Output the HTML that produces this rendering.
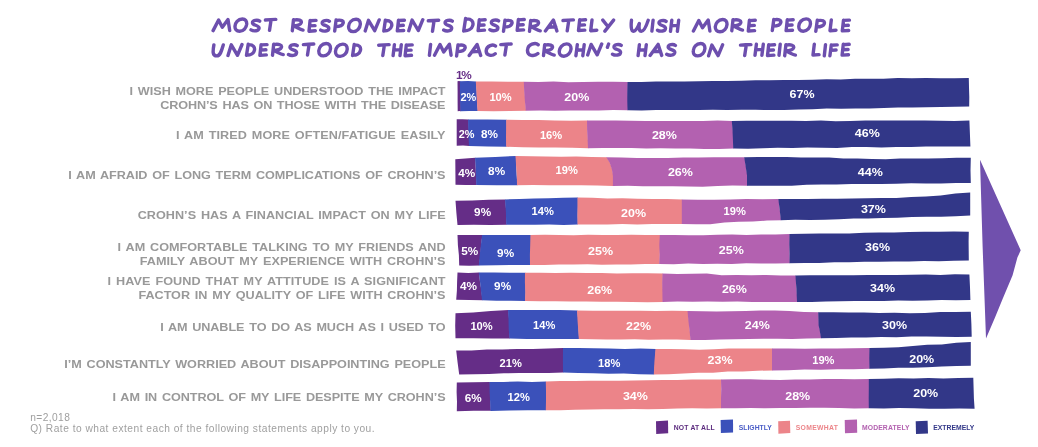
<!DOCTYPE html>
<html><head><meta charset="utf-8"><title>Crohn's impact chart</title>
<style>
html,body{margin:0;padding:0;background:#fff;}
body{width:1038px;height:447px;overflow:hidden;position:relative;font-family:"Liberation Sans",sans-serif;}
svg{position:absolute;left:0;top:0;display:block;will-change:transform;opacity:0.999}
h1{position:absolute;left:210px;top:12px;width:642px;margin:0;font:bold 19px/24px "Liberation Sans",sans-serif;color:transparent;text-align:center;letter-spacing:1px;white-space:nowrap;overflow:hidden}
text{font-family:"Liberation Sans",sans-serif}
.n{font-weight:bold;font-size:11px;fill:#fff}
.l{font-weight:bold;font-size:11.6px;fill:#999999;word-spacing:1.2px}
.f{font-size:10.2px;fill:#9f9f9f}
.g{font-weight:bold;font-size:6.8px}
</style></head><body>
<h1>MOST RESPONDENTS DESPERATELY WISH MORE PEOPLE<br>UNDERSTOOD THE IMPACT CROHN&rsquo;S HAS ON THEIR LIFE</h1>
<svg width="1038" height="447" viewBox="0 0 1038 447">
<path d="M 213.1 30.6 L 218.6 20.0 L 222.3 27.3 L 228.0 19.6 L 229.7 30.6 M 242.4 19.0 C 237.8 19.0 235.2 22.8 235.0 26.1 C 234.8 29.4 236.5 31.3 239.6 31.3 C 243.6 31.3 246.4 27.7 246.7 24.2 C 246.9 20.9 245.3 19.0 242.4 19.0 M 259.7 21.1 C 257.5 19.4 252.2 20.2 252.5 23.0 C 252.7 25.5 259.3 25.1 259.1 28.1 C 258.8 31.2 253.8 31.6 251.0 29.9 M 265.4 20.0 L 270.6 19.6 L 275.8 19.4 M 271.1 19.7 L 269.5 30.4 M 293.5 19.7 L 292.3 30.7 M 293.5 20.1 C 299.0 19.1 302.0 20.5 301.2 22.7 C 300.5 24.9 296.4 25.7 293.3 25.8 C 297.0 27.4 300.5 29.6 303.0 30.1 M 310.1 20.4 L 309.0 31.2 M 310.1 20.7 L 316.0 20.4 M 309.6 25.9 L 315.0 25.6 M 309.0 31.2 L 315.3 30.7 M 329.4 21.3 C 327.2 19.6 322.0 20.5 322.2 23.2 C 322.5 25.7 329.0 25.3 328.8 28.3 C 328.6 31.5 323.5 31.8 320.7 30.1 M 336.1 20.0 L 334.7 31.0 M 336.1 20.5 C 341.5 19.4 343.9 20.9 343.1 23.3 C 342.4 25.8 338.9 26.6 335.5 26.6 M 356.1 19.3 C 351.4 19.3 348.9 23.1 348.6 26.4 C 348.4 29.7 350.2 31.6 353.2 31.6 C 357.2 31.6 360.1 28.0 360.3 24.4 C 360.5 21.1 358.9 19.3 356.1 19.3 M 365.2 30.9 L 368.5 20.3 L 374.7 30.7 L 379.2 19.9 M 385.4 20.1 L 383.8 31.1 M 385.3 20.5 C 390.7 20.1 392.4 23.2 391.6 26.1 C 390.8 29.4 387.2 31.1 383.8 30.7 M 398.5 20.2 L 397.3 30.9 M 398.5 20.5 L 404.4 20.2 M 398.0 25.7 L 403.3 25.3 M 397.3 30.9 L 403.7 30.5 M 408.8 30.7 L 412.1 20.0 L 418.3 30.5 L 422.8 19.7 M 428.3 20.8 L 433.5 20.5 L 438.7 20.3 M 434.1 20.6 L 432.5 31.3 M 452.3 21.2 C 450.1 19.5 444.9 20.3 445.1 23.1 C 445.4 25.6 451.9 25.2 451.7 28.1 C 451.5 31.3 446.4 31.7 443.7 30.0 M 465.6 18.4 L 463.7 31.1 M 465.6 18.9 C 471.8 18.4 473.7 21.9 472.8 25.4 C 471.9 29.2 467.8 31.1 463.8 30.7 M 479.3 19.8 L 478.1 30.6 M 479.3 20.1 L 485.2 19.8 M 478.8 25.3 L 484.1 25.0 M 478.1 30.6 L 484.5 30.1 M 498.6 20.9 C 496.4 19.2 491.1 20.1 491.4 22.8 C 491.6 25.3 498.1 24.9 497.9 27.9 C 497.7 31.1 492.7 31.4 489.9 29.7 M 505.0 20.3 L 503.5 31.3 M 504.9 20.7 C 510.3 19.6 512.7 21.2 511.9 23.6 C 511.2 26.0 507.7 26.9 504.4 26.9 M 518.4 19.5 L 517.2 30.3 M 518.4 19.9 L 524.3 19.5 M 517.9 25.0 L 523.2 24.7 M 517.2 30.3 L 523.6 29.9 M 530.7 20.4 L 529.5 31.4 M 530.7 20.8 C 536.2 19.8 539.1 21.2 538.4 23.4 C 537.7 25.6 533.6 26.4 530.4 26.5 C 534.2 28.1 537.7 30.3 540.2 30.8 M 545.4 31.0 L 553.4 20.0 L 556.9 31.0 M 548.5 27.3 L 555.8 26.8 M 563.0 20.5 L 568.2 20.1 L 573.4 19.9 M 568.8 20.2 L 567.2 30.9 M 579.7 19.8 L 578.5 30.5 M 579.6 20.1 L 585.6 19.8 M 579.1 25.3 L 584.5 24.9 M 578.5 30.5 L 584.8 30.1 M 592.0 20.0 L 590.7 30.7 L 596.8 30.2 M 602.8 20.1 L 607.3 25.8 M 613.6 20.1 L 604.9 31.1 M 631.5 20.3 C 630.8 25.8 631.2 31.3 633.3 31.3 C 635.5 31.3 637.9 26.9 639.3 23.6 C 638.7 28.0 639.1 31.3 641.4 31.3 C 643.7 31.3 646.4 25.8 648.2 20.3 M 653.1 20.1 L 651.9 31.1 M 666.1 21.4 C 664.0 19.6 658.7 20.5 659.0 23.2 C 659.2 25.8 665.7 25.3 665.5 28.3 C 665.3 31.5 660.2 31.8 657.5 30.2 M 671.8 20.3 L 670.5 31.3 M 678.7 20.3 L 677.4 31.3 M 671.1 25.8 L 678.1 25.4 M 693.4 31.1 L 698.8 20.4 L 702.5 27.8 L 708.2 20.1 L 709.9 31.1 M 722.7 19.5 C 718.1 19.5 715.6 23.3 715.3 26.6 C 715.1 29.9 716.9 31.8 719.9 31.8 C 723.9 31.8 726.7 28.2 727.0 24.6 C 727.2 21.3 725.6 19.5 722.7 19.5 M 733.0 19.7 L 731.8 30.7 M 732.9 20.1 C 738.5 19.1 741.4 20.6 740.7 22.8 C 739.9 25.0 735.9 25.7 732.7 25.8 C 736.5 27.4 739.9 29.6 742.5 30.1 M 749.4 20.3 L 748.3 31.0 M 749.4 20.6 L 755.3 20.3 M 748.9 25.8 L 754.3 25.4 M 748.3 31.0 L 754.6 30.6 M 773.8 19.5 L 772.3 30.5 M 773.7 19.9 C 779.1 18.8 781.5 20.4 780.7 22.8 C 780.0 25.2 776.5 26.1 773.2 26.1 M 787.3 19.8 L 786.1 30.6 M 787.2 20.1 L 793.2 19.8 M 786.7 25.3 L 792.1 25.0 M 786.1 30.6 L 792.5 30.2 M 806.2 18.9 C 801.6 18.9 799.0 22.8 798.8 26.1 C 798.6 29.4 800.3 31.2 803.3 31.2 C 807.4 31.2 810.2 27.6 810.4 24.1 C 810.7 20.8 809.1 18.9 806.2 18.9 M 817.3 20.3 L 815.8 31.3 M 817.3 20.7 C 822.7 19.6 825.0 21.2 824.3 23.6 C 823.5 26.0 820.0 26.9 816.7 26.9 M 831.3 20.0 L 830.0 30.7 L 836.0 30.2 M 843.5 20.1 L 842.3 30.9 M 843.5 20.4 L 849.4 20.1 M 843.0 25.6 L 848.3 25.3 M 842.3 30.9 L 848.7 30.5 M 213.9 44.9 C 212.7 51.5 212.4 55.9 216.8 55.9 C 220.4 55.9 221.7 50.4 223.3 44.9 M 228.0 55.5 L 231.3 44.8 L 237.5 55.3 L 242.0 44.5 M 248.2 44.3 L 246.5 55.3 M 248.1 44.7 C 253.5 44.3 255.1 47.4 254.4 50.4 C 253.6 53.7 250.0 55.3 246.6 55.0 M 261.1 44.6 L 259.9 55.4 M 261.1 44.9 L 267.0 44.6 M 260.6 50.1 L 265.9 49.8 M 259.9 55.4 L 266.3 54.9 M 273.7 44.2 L 272.5 55.2 M 273.6 44.6 C 279.2 43.6 282.1 45.1 281.4 47.3 C 280.6 49.5 276.6 50.2 273.4 50.4 C 277.2 51.9 280.6 54.1 283.2 54.6 M 297.2 45.7 C 295.0 44.0 289.8 44.8 290.0 47.6 C 290.3 50.1 296.8 49.7 296.6 52.6 C 296.4 55.8 291.3 56.2 288.5 54.5 M 303.4 44.6 L 308.6 44.3 L 313.8 44.0 M 309.1 44.4 L 307.5 55.0 M 326.2 43.5 C 321.6 43.5 319.1 47.4 318.8 50.7 C 318.6 54.0 320.4 55.9 323.4 55.9 C 327.4 55.9 330.3 52.2 330.5 48.7 C 330.7 45.4 329.1 43.5 326.2 43.5 M 342.9 44.1 C 338.3 44.1 335.8 48.0 335.5 51.3 C 335.3 54.6 337.1 56.4 340.1 56.4 C 344.1 56.4 347.0 52.8 347.2 49.3 C 347.4 46.0 345.8 44.1 342.9 44.1 M 354.2 44.5 L 352.6 55.5 M 354.2 44.9 C 359.5 44.5 361.2 47.5 360.4 50.5 C 359.6 53.8 356.0 55.5 352.6 55.1 M 378.7 45.2 L 383.9 44.9 L 389.1 44.6 M 384.4 45.0 L 382.8 55.6 M 394.4 44.6 L 393.1 55.6 M 401.3 44.6 L 400.0 55.6 M 393.7 50.1 L 400.7 49.6 M 406.3 44.9 L 405.1 55.7 M 406.3 45.3 L 412.2 44.9 M 405.8 50.4 L 411.1 50.1 M 405.1 55.7 L 411.5 55.3 M 430.6 44.4 L 429.4 55.4 M 434.5 55.2 L 440.0 44.6 L 443.7 51.9 L 449.4 44.2 L 451.1 55.2 M 458.0 45.0 L 456.6 56.0 M 458.0 45.4 C 463.4 44.3 465.8 45.9 465.0 48.3 C 464.3 50.7 460.8 51.6 457.4 51.6 M 469.2 55.5 L 477.1 44.5 L 480.7 55.5 M 472.3 51.8 L 479.5 51.4 M 495.5 46.0 C 493.2 43.8 486.6 45.5 486.2 50.6 C 485.8 56.0 492.3 56.3 495.2 53.7 M 500.8 44.6 L 506.0 44.2 L 511.2 44.0 M 506.5 44.4 L 504.9 55.0 M 538.2 44.7 C 535.5 42.1 527.9 44.1 527.5 50.0 C 527.0 56.3 534.5 56.7 537.9 53.6 M 544.7 44.6 L 543.5 55.6 M 544.6 45.1 C 550.2 44.1 553.1 45.5 552.4 47.7 C 551.6 49.9 547.6 50.7 544.4 50.8 C 548.2 52.3 551.6 54.5 554.2 55.1 M 566.7 43.9 C 562.1 43.9 559.6 47.8 559.3 51.1 C 559.1 54.4 560.8 56.2 563.9 56.2 C 567.9 56.2 570.7 52.6 571.0 49.1 C 571.2 45.8 569.6 43.9 566.7 43.9 M 577.3 44.7 L 575.9 55.7 M 584.2 44.7 L 582.8 55.7 M 576.6 50.2 L 583.5 49.8 M 587.7 55.0 L 591.1 44.4 L 597.2 54.8 L 601.7 44.0 M 608.6 44.0 L 607.4 47.3 M 621.2 45.4 C 619.0 43.6 613.8 44.5 614.0 47.2 C 614.3 49.8 620.8 49.3 620.6 52.3 C 620.4 55.5 615.3 55.8 612.5 54.2 M 639.4 44.6 L 638.1 55.6 M 646.3 44.6 L 645.0 55.6 M 638.8 50.1 L 645.7 49.7 M 650.1 55.4 L 658.1 44.4 L 661.7 55.4 M 653.3 51.6 L 660.5 51.2 M 675.4 45.5 C 673.2 43.7 668.0 44.6 668.2 47.3 C 668.5 49.9 675.0 49.4 674.8 52.4 C 674.5 55.6 669.5 55.9 666.7 54.3 M 700.7 43.5 C 696.1 43.5 693.5 47.4 693.3 50.7 C 693.0 54.0 694.8 55.9 697.8 55.9 C 701.8 55.9 704.7 52.2 704.9 48.7 C 705.1 45.4 703.5 43.5 700.7 43.5 M 708.6 55.8 L 711.9 45.1 L 718.1 55.6 L 722.6 44.8 M 740.5 45.1 L 745.7 44.8 L 750.9 44.6 M 746.3 44.9 L 744.7 55.6 M 756.4 44.3 L 755.0 55.3 M 763.3 44.3 L 761.9 55.3 M 755.7 49.8 L 762.6 49.4 M 768.7 44.8 L 767.5 55.6 M 768.7 45.1 L 774.6 44.8 M 768.2 50.3 L 773.5 50.0 M 767.5 55.6 L 773.9 55.1 M 780.2 44.2 L 779.0 55.2 M 785.9 44.7 L 784.7 55.7 M 785.8 45.1 C 791.4 44.1 794.3 45.6 793.6 47.8 C 792.9 50.0 788.8 50.7 785.6 50.9 C 789.4 52.4 792.8 54.6 795.4 55.1 M 814.3 44.3 L 813.0 55.0 L 819.0 54.6 M 825.5 44.8 L 824.3 55.8 M 831.3 44.9 L 829.9 55.9 M 831.2 45.2 L 837.2 44.9 M 830.6 50.4 L 836.1 50.0 M 843.3 44.3 L 842.1 55.1 M 843.2 44.7 L 849.2 44.3 M 842.7 49.8 L 848.1 49.5 M 842.1 55.1 L 848.5 54.7" fill="none" stroke="#6d4fae" stroke-width="3.40" stroke-linecap="round" stroke-linejoin="round"/>
<polygon fill="#652d87" points="457.5,81.2 458.9,81.1 460.4,81.3 460.4,91.3 460.8,101.2 460.9,111.2 459.3,110.9 457.7,111.2 457.6,101.2 457.6,91.2"/>
<polygon fill="#3b51ba" points="460.0,81.3 468.1,81.0 476.1,81.4 476.7,91.3 477.0,101.2 477.9,111.1 469.2,111.1 460.5,111.2 460.1,101.2 459.9,91.3"/>
<polygon fill="#ec8489" points="475.8,81.4 491.9,81.4 508.0,81.8 524.1,81.7 524.6,91.4 525.3,101.1 526.1,110.8 509.9,111.0 493.7,111.3 477.5,111.1 476.9,101.2 476.4,91.3"/>
<polygon fill="#b361b0" points="523.8,81.7 538.6,82.1 553.5,81.5 568.4,82.2 583.3,81.9 598.1,81.8 613.0,81.7 627.9,82.0 627.8,91.4 628.1,100.9 627.9,110.3 613.3,110.1 598.7,110.5 584.1,110.6 569.5,110.5 554.9,110.7 540.3,110.4 525.8,110.8 524.9,101.1 524.2,91.4"/>
<polygon fill="#323788" points="627.5,82.0 641.7,82.0 655.9,81.6 670.2,81.4 684.4,81.4 698.6,81.2 712.8,80.9 727.0,81.0 741.3,80.7 755.5,80.2 769.7,80.2 783.9,80.0 798.1,80.0 812.4,79.7 826.6,79.2 840.8,79.5 855.0,78.7 869.3,78.7 883.5,78.7 897.7,78.1 911.9,78.3 926.1,77.9 940.4,78.3 954.6,78.3 968.8,78.1 969.0,87.6 969.3,97.1 969.2,106.6 955.0,106.7 940.7,107.1 926.5,107.3 912.2,107.5 898.0,107.6 883.8,108.1 869.5,108.5 855.3,108.4 841.1,108.8 826.8,108.6 812.6,109.3 798.4,109.6 784.1,110.1 769.9,110.1 755.6,109.7 741.4,109.8 727.2,110.1 712.9,109.7 698.7,110.0 684.5,109.9 670.2,109.9 656.0,109.9 641.7,110.5 627.5,110.3 627.3,100.9 627.3,91.4"/>
<polygon fill="#652d87" points="456.7,119.3 462.5,119.3 468.4,119.4 469.1,132.7 469.4,146.0 463.0,145.5 456.7,145.7 456.7,132.5"/>
<polygon fill="#3b51ba" points="468.0,119.4 487.3,119.6 506.6,119.8 506.9,128.8 506.8,137.8 506.6,146.8 487.8,146.6 469.0,146.0 468.4,132.7"/>
<polygon fill="#ec8489" points="506.2,119.8 522.5,119.9 538.7,120.0 554.9,120.6 571.2,120.8 587.4,120.6 587.5,129.8 587.9,139.0 588.4,148.2 572.0,147.8 555.5,147.5 539.1,147.4 522.7,147.2 506.2,146.8 506.0,137.8 506.1,128.8"/>
<polygon fill="#b361b0" points="587.0,120.6 601.5,120.6 616.0,120.6 630.5,120.8 645.1,121.1 659.6,121.0 674.1,120.9 688.6,121.0 703.1,121.0 717.6,120.6 732.1,121.0 732.9,130.2 733.3,139.3 733.6,148.5 719.1,148.9 704.5,148.9 690.0,148.6 675.4,148.5 660.8,148.3 646.3,148.6 631.7,148.1 617.1,148.0 602.6,148.1 588.0,148.2 587.6,139.0 587.1,129.8"/>
<polygon fill="#323788" points="731.8,121.0 746.6,120.7 761.5,120.7 776.3,120.8 791.2,120.8 806.0,120.9 820.9,120.6 835.7,121.2 850.6,121.0 865.4,120.6 880.3,120.6 895.1,120.6 910.0,120.6 924.8,120.4 939.7,120.8 954.5,120.9 969.4,120.5 969.9,133.5 970.4,146.5 955.6,146.6 940.8,146.4 925.9,146.6 911.1,146.9 896.3,146.9 881.5,147.4 866.6,147.1 851.8,147.1 837.0,147.9 822.2,147.7 807.4,147.5 792.5,147.9 777.7,147.7 762.9,148.2 748.1,148.7 733.2,148.5 732.9,139.3 732.5,130.2"/>
<polygon fill="#652d87" points="455.3,159.3 465.4,158.4 475.4,157.8 475.7,166.8 476.0,175.9 476.6,184.9 466.1,185.1 455.5,184.8 455.4,172.1"/>
<polygon fill="#3b51ba" points="475.0,157.8 495.4,157.0 515.9,155.9 516.3,165.7 516.7,175.4 517.4,185.2 496.8,185.3 476.2,184.9 476.0,175.9 475.7,166.8"/>
<polygon fill="#ec8489" points="515.5,155.9 530.7,156.3 545.9,156.5 561.1,156.7 576.3,156.6 591.5,157.0 606.7,157.2 610.2,162.9 612.3,169.5 613.3,176.1 613.3,185.9 597.2,185.6 581.2,185.3 565.1,185.2 549.1,185.3 533.0,185.1 517.0,185.2 516.8,175.4 516.1,165.7"/>
<polygon fill="#b361b0" points="606.3,157.2 621.7,157.4 637.0,157.9 652.4,158.1 667.8,158.0 683.2,157.6 698.5,157.4 713.9,157.3 729.3,157.2 744.6,157.2 746.1,167.4 747.4,175.4 747.4,185.7 732.5,185.6 717.5,186.1 702.6,186.7 687.6,186.6 672.7,186.2 657.7,186.3 642.8,186.3 627.8,185.7 612.9,185.9 612.9,176.1 611.9,169.5 609.8,162.9"/>
<polygon fill="#323788" points="744.2,157.2 758.4,157.1 772.6,157.1 786.7,157.1 800.9,157.4 815.0,157.5 829.2,157.6 843.3,158.4 857.5,158.4 871.7,159.0 885.8,159.2 900.0,158.6 914.1,158.4 928.3,158.6 942.4,158.3 956.6,157.7 970.8,157.7 970.5,170.4 970.8,183.1 955.8,183.0 940.9,183.6 926.0,183.6 911.1,183.2 896.2,183.8 881.2,184.0 866.3,184.1 851.4,184.1 836.5,184.6 821.6,184.6 806.7,184.8 791.8,185.7 776.8,185.7 761.9,185.7 747.0,185.7 747.0,175.4 745.8,167.4"/>
<polygon fill="#652d87" points="455.5,200.8 472.1,200.6 488.8,199.8 505.4,199.4 506.2,212.1 506.6,224.8 490.3,225.1 473.9,224.7 457.5,225.0 456.4,212.9"/>
<polygon fill="#3b51ba" points="505.0,199.4 519.6,198.9 534.2,198.5 548.7,198.3 563.3,197.7 577.9,197.5 577.9,206.5 577.7,215.5 577.9,224.5 563.6,224.9 549.2,224.5 534.9,224.7 520.6,224.8 506.2,224.8 505.9,212.1"/>
<polygon fill="#ec8489" points="577.5,197.5 592.5,197.7 607.4,198.4 622.4,198.3 637.3,198.7 652.3,198.9 667.2,198.9 682.2,199.5 682.2,211.8 682.2,224.1 667.2,223.9 652.3,223.9 637.3,224.5 622.4,224.1 607.4,224.4 592.5,224.6 577.5,224.5 577.4,215.5 577.5,206.5"/>
<polygon fill="#b361b0" points="681.8,199.5 697.9,199.8 714.1,199.7 730.2,199.4 746.4,198.9 762.5,199.2 778.7,199.1 779.8,209.7 781.2,220.3 767.0,220.6 752.8,221.5 738.6,221.8 724.4,222.4 710.2,224.2 696.0,224.3 681.8,224.1 681.8,211.8"/>
<polygon fill="#323788" points="778.3,199.1 793.1,199.1 807.8,198.9 822.6,198.7 837.3,198.7 852.1,198.4 866.9,198.3 881.6,198.1 896.4,197.9 911.2,197.1 925.9,196.6 940.7,195.5 955.4,193.6 970.2,192.4 970.2,203.9 970.2,215.5 955.6,216.3 941.1,216.7 926.5,216.7 911.9,217.1 897.4,217.8 882.8,218.0 868.2,218.4 853.6,218.6 839.1,219.3 824.5,219.7 809.9,220.0 795.4,219.8 780.8,220.3 779.7,209.7"/>
<polygon fill="#652d87" points="457.5,235.0 469.9,235.1 482.4,235.0 481.1,245.1 480.5,255.2 479.1,265.4 469.2,265.8 459.2,265.5 458.9,255.3 457.9,245.2"/>
<polygon fill="#3b51ba" points="482.0,235.0 498.3,234.9 514.6,235.0 530.9,235.0 531.0,245.0 530.8,255.0 530.4,265.0 513.2,264.9 496.0,265.2 478.8,265.4 479.7,255.2 480.9,245.1"/>
<polygon fill="#ec8489" points="530.5,235.0 544.9,234.8 559.3,234.9 573.7,235.2 588.1,234.7 602.6,235.0 617.0,235.0 631.4,234.7 645.8,234.9 660.2,235.0 660.1,244.7 659.8,254.4 659.6,264.1 645.2,263.9 630.8,264.6 616.4,264.6 602.0,264.8 587.6,264.3 573.2,264.5 558.8,264.5 544.4,265.1 530.0,265.0 529.9,255.0 530.2,245.0"/>
<polygon fill="#b361b0" points="659.8,235.0 674.3,234.9 688.7,235.3 703.2,235.2 717.6,234.8 732.1,234.6 746.5,234.9 761.0,234.5 775.4,234.4 789.9,234.0 789.7,243.8 789.6,253.6 789.9,263.3 775.4,263.6 760.9,263.5 746.3,263.3 731.8,264.0 717.3,263.8 702.8,264.0 688.2,263.6 673.7,264.3 659.2,264.1 659.6,254.4 659.3,244.7"/>
<polygon fill="#323788" points="789.5,234.0 804.4,233.8 819.4,233.5 834.3,233.4 849.3,233.4 864.2,232.7 879.1,232.4 894.1,232.4 909.0,232.0 924.0,231.8 938.9,231.7 953.9,231.5 968.8,231.7 968.6,241.3 968.7,251.0 968.8,260.6 953.9,260.7 938.9,261.2 924.0,261.1 909.0,261.5 894.1,261.5 879.1,261.8 864.2,261.8 849.3,262.2 834.3,262.3 819.4,263.0 804.4,263.1 789.5,263.3 789.5,253.6 789.3,243.8"/>
<polygon fill="#652d87" points="457.5,272.5 468.3,272.9 479.1,272.6 480.0,281.8 481.5,291.0 482.4,300.2 469.3,299.9 456.2,299.7 456.9,290.6 457.1,281.6"/>
<polygon fill="#3b51ba" points="478.8,272.6 494.3,272.6 509.8,272.8 525.4,272.8 525.5,282.3 525.7,291.7 525.4,301.1 510.9,300.7 496.5,300.8 482.0,300.2 481.0,291.0 480.0,281.8"/>
<polygon fill="#ec8489" points="525.0,272.8 540.3,272.8 555.6,272.9 571.0,272.7 586.3,272.9 601.6,272.9 616.9,273.5 632.3,273.2 647.6,273.2 662.9,273.5 662.7,283.0 663.1,292.4 662.9,301.9 647.6,302.2 632.3,302.0 616.9,301.7 601.6,301.7 586.3,301.6 571.0,301.6 555.6,301.2 540.3,301.2 525.0,301.1 525.3,291.7 524.9,282.3"/>
<polygon fill="#b361b0" points="662.5,273.5 677.3,273.9 692.1,273.7 706.9,273.6 721.7,275.3 736.6,275.0 751.4,275.2 766.2,275.0 781.0,275.4 795.8,275.4 796.6,288.6 797.4,301.9 782.4,302.1 767.4,301.9 752.4,302.0 737.4,301.6 722.5,301.8 707.5,301.6 692.5,301.8 677.5,301.6 662.5,301.9 662.4,292.4 662.2,283.0"/>
<polygon fill="#323788" points="795.4,275.4 809.9,275.2 824.4,275.3 838.9,275.2 853.4,275.3 867.9,275.1 882.4,275.1 896.9,275.1 911.4,274.7 925.9,274.6 940.4,275.0 954.9,274.3 969.4,274.5 970.0,287.3 970.4,300.1 955.9,300.3 941.5,299.9 927.0,300.6 912.6,300.7 898.1,300.6 883.7,300.9 869.2,301.1 854.8,300.9 840.4,301.3 825.9,301.5 811.5,301.9 797.0,301.9 796.4,288.6"/>
<polygon fill="#652d87" points="455.5,313.2 473.1,312.4 490.8,311.1 508.4,310.0 509.1,319.5 509.5,329.1 509.9,338.6 491.8,338.6 473.6,338.2 455.5,338.2 455.2,325.8"/>
<polygon fill="#3b51ba" points="508.0,310.0 525.4,309.9 542.7,310.1 560.0,310.0 577.4,310.4 578.2,320.0 578.6,329.5 579.1,339.1 561.7,339.1 544.3,338.9 526.9,338.9 509.5,338.6 508.7,329.1 508.5,319.5"/>
<polygon fill="#ec8489" points="577.0,310.4 592.8,310.7 608.7,310.8 624.5,310.7 640.4,310.8 656.2,311.0 672.1,310.7 687.9,311.1 689.0,320.7 689.8,330.3 690.9,339.9 676.9,339.5 662.9,339.5 648.8,339.7 634.8,339.3 620.8,339.6 606.8,339.6 592.8,339.2 578.8,339.1 578.2,329.5 577.5,320.0"/>
<polygon fill="#b361b0" points="687.5,311.1 702.1,311.3 716.6,311.4 731.2,311.2 745.8,311.1 760.3,310.6 774.9,310.6 789.5,311.0 804.0,311.9 818.6,312.2 819.0,325.2 820.0,329.9 821.4,338.2 806.9,338.4 792.3,338.9 777.8,338.8 763.2,338.8 748.7,339.0 734.1,339.3 719.6,339.4 705.0,340.1 690.5,339.9 689.5,330.3 688.4,320.7"/>
<polygon fill="#323788" points="818.2,312.2 833.5,312.3 848.7,312.5 864.0,312.4 879.2,313.1 894.5,312.8 909.8,313.3 925.0,312.9 940.3,312.0 955.5,312.1 970.8,311.8 971.4,324.3 971.7,336.8 956.6,337.1 941.6,336.8 926.5,336.6 911.4,336.6 896.4,337.2 881.3,336.9 866.2,337.4 851.1,337.4 836.1,337.9 821.0,338.2 819.6,329.9 818.6,325.2"/>
<polygon fill="#652d87" points="456.2,350.5 471.6,350.4 486.9,349.5 502.2,349.6 517.5,349.0 532.8,348.9 548.1,348.4 563.4,348.0 563.2,360.3 563.4,372.6 548.5,373.0 533.6,373.0 518.8,373.0 503.9,373.3 489.0,373.9 474.1,374.2 459.2,374.5 457.6,362.5"/>
<polygon fill="#3b51ba" points="563.0,348.0 578.5,347.9 594.0,348.2 609.5,348.4 624.9,348.9 640.4,348.5 655.9,349.0 655.2,361.7 654.1,374.4 639.0,374.3 623.8,373.5 608.6,373.8 593.4,373.3 578.2,373.1 563.0,372.6 562.9,360.3"/>
<polygon fill="#ec8489" points="655.5,349.0 670.1,349.0 684.7,349.2 699.3,349.7 714.0,349.3 728.6,348.6 743.2,348.6 757.8,348.4 772.4,348.5 772.1,359.5 772.4,370.5 757.6,370.7 742.7,371.6 727.9,371.6 713.1,372.7 698.2,372.8 683.4,373.4 668.6,374.2 653.8,374.4 654.4,361.7"/>
<polygon fill="#b361b0" points="772.0,348.5 788.3,348.4 804.6,348.7 820.9,348.6 837.2,348.5 853.5,348.3 869.8,348.1 870.0,358.4 869.8,368.7 853.5,369.3 837.2,369.3 820.9,369.7 804.6,369.5 788.3,370.3 772.0,370.5 772.0,359.5"/>
<polygon fill="#323788" points="869.4,348.1 883.9,347.8 898.4,347.2 912.9,346.0 927.3,344.8 941.8,344.4 956.3,342.8 970.8,342.1 970.8,354.0 970.8,365.8 956.3,366.1 941.8,366.5 927.3,367.2 912.9,367.8 898.4,367.7 883.9,368.4 869.4,368.7 869.3,358.4"/>
<polygon fill="#652d87" points="456.8,382.5 473.3,382.3 489.9,382.1 490.2,391.7 490.4,401.3 490.9,410.8 473.8,410.8 456.8,411.2 457.0,401.7 456.6,392.1"/>
<polygon fill="#3b51ba" points="489.5,382.1 503.7,381.9 517.8,381.6 532.0,381.9 546.1,381.4 546.4,391.0 546.1,400.6 546.1,410.2 527.6,410.2 509.1,410.4 490.5,410.9 490.1,401.3 489.6,391.7"/>
<polygon fill="#ec8489" points="545.8,381.4 560.4,381.0 575.0,380.9 589.7,380.8 604.3,380.8 618.9,380.8 633.6,380.6 648.2,380.2 662.9,380.0 677.5,379.9 692.1,379.6 706.8,379.4 721.4,379.5 721.1,389.1 721.3,398.6 721.4,408.2 706.8,408.6 692.1,408.2 677.5,408.6 662.9,408.9 648.2,409.2 633.6,409.0 618.9,409.2 604.3,409.3 589.7,409.6 575.0,409.8 560.4,410.3 545.8,410.2 546.0,400.6 546.0,391.0"/>
<polygon fill="#b361b0" points="721.0,379.5 735.8,379.2 750.6,379.3 765.4,379.8 780.3,380.0 795.1,379.5 809.9,379.5 824.7,378.9 839.5,379.1 854.3,379.3 869.1,378.9 869.3,388.7 869.4,398.5 869.1,408.3 854.3,408.5 839.5,407.9 824.7,407.8 809.9,407.7 795.1,407.9 780.3,407.9 765.4,408.2 750.6,408.1 735.8,408.2 721.0,408.2 721.0,398.6 721.2,389.1"/>
<polygon fill="#323788" points="868.8,378.9 883.7,378.8 898.6,378.3 913.6,378.6 928.5,378.1 943.4,378.4 958.4,378.1 973.3,377.8 973.6,388.1 973.9,398.5 974.6,408.8 959.5,408.5 944.4,408.7 929.2,408.7 914.1,408.2 899.0,408.1 883.9,408.4 868.8,408.3 868.7,398.5 868.8,388.7"/>
<text class="n" x="460.5" y="101.0" textLength="15.8" lengthAdjust="spacingAndGlyphs">2%</text>
<text class="n" x="489.4" y="101.0" textLength="22.3" lengthAdjust="spacingAndGlyphs">10%</text>
<text class="n" x="564.3" y="100.9" textLength="25.0" lengthAdjust="spacingAndGlyphs">20%</text>
<text class="n" x="789.6" y="97.7" textLength="25.0" lengthAdjust="spacingAndGlyphs">67%</text>
<text class="n" x="458.8" y="138.0" textLength="15.8" lengthAdjust="spacingAndGlyphs">2%</text>
<text class="n" x="480.9" y="138.0" textLength="17.0" lengthAdjust="spacingAndGlyphs">8%</text>
<text class="n" x="539.9" y="138.9" textLength="22.3" lengthAdjust="spacingAndGlyphs">16%</text>
<text class="n" x="651.9" y="139.0" textLength="25.0" lengthAdjust="spacingAndGlyphs">28%</text>
<text class="n" x="854.8" y="136.5" textLength="25.0" lengthAdjust="spacingAndGlyphs">46%</text>
<text class="n" x="458.2" y="176.8" textLength="17.0" lengthAdjust="spacingAndGlyphs">4%</text>
<text class="n" x="488.1" y="175.2" textLength="17.0" lengthAdjust="spacingAndGlyphs">8%</text>
<text class="n" x="555.5" y="173.8" textLength="22.3" lengthAdjust="spacingAndGlyphs">19%</text>
<text class="n" x="667.9" y="176.3" textLength="25.0" lengthAdjust="spacingAndGlyphs">26%</text>
<text class="n" x="857.8" y="175.8" textLength="25.0" lengthAdjust="spacingAndGlyphs">44%</text>
<text class="n" x="474.1" y="215.8" textLength="17.0" lengthAdjust="spacingAndGlyphs">9%</text>
<text class="n" x="531.6" y="215.0" textLength="22.3" lengthAdjust="spacingAndGlyphs">14%</text>
<text class="n" x="621.0" y="217.0" textLength="25.0" lengthAdjust="spacingAndGlyphs">20%</text>
<text class="n" x="723.6" y="214.8" textLength="22.3" lengthAdjust="spacingAndGlyphs">19%</text>
<text class="n" x="860.9" y="212.8" textLength="25.0" lengthAdjust="spacingAndGlyphs">37%</text>
<text class="n" x="461.2" y="255.4" textLength="17.0" lengthAdjust="spacingAndGlyphs">5%</text>
<text class="n" x="497.1" y="256.9" textLength="17.0" lengthAdjust="spacingAndGlyphs">9%</text>
<text class="n" x="588.0" y="254.8" textLength="25.0" lengthAdjust="spacingAndGlyphs">25%</text>
<text class="n" x="718.8" y="254.1" textLength="25.0" lengthAdjust="spacingAndGlyphs">25%</text>
<text class="n" x="865.0" y="250.8" textLength="25.0" lengthAdjust="spacingAndGlyphs">36%</text>
<text class="n" x="460.0" y="289.8" textLength="17.0" lengthAdjust="spacingAndGlyphs">4%</text>
<text class="n" x="494.1" y="289.8" textLength="17.0" lengthAdjust="spacingAndGlyphs">9%</text>
<text class="n" x="587.2" y="294.1" textLength="25.0" lengthAdjust="spacingAndGlyphs">26%</text>
<text class="n" x="721.9" y="292.7" textLength="25.0" lengthAdjust="spacingAndGlyphs">26%</text>
<text class="n" x="870.0" y="291.8" textLength="25.0" lengthAdjust="spacingAndGlyphs">34%</text>
<text class="n" x="470.4" y="329.6" textLength="22.3" lengthAdjust="spacingAndGlyphs">10%</text>
<text class="n" x="533.1" y="329.1" textLength="22.3" lengthAdjust="spacingAndGlyphs">14%</text>
<text class="n" x="626.1" y="329.8" textLength="25.0" lengthAdjust="spacingAndGlyphs">22%</text>
<text class="n" x="744.8" y="328.8" textLength="25.0" lengthAdjust="spacingAndGlyphs">24%</text>
<text class="n" x="882.1" y="328.6" textLength="25.0" lengthAdjust="spacingAndGlyphs">30%</text>
<text class="n" x="499.5" y="367.1" textLength="22.3" lengthAdjust="spacingAndGlyphs">21%</text>
<text class="n" x="598.1" y="366.8" textLength="22.3" lengthAdjust="spacingAndGlyphs">18%</text>
<text class="n" x="707.5" y="363.9" textLength="25.0" lengthAdjust="spacingAndGlyphs">23%</text>
<text class="n" x="812.2" y="363.8" textLength="22.3" lengthAdjust="spacingAndGlyphs">19%</text>
<text class="n" x="909.2" y="362.6" textLength="25.0" lengthAdjust="spacingAndGlyphs">20%</text>
<text class="n" x="464.8" y="402.1" textLength="17.0" lengthAdjust="spacingAndGlyphs">6%</text>
<text class="n" x="507.5" y="401.1" textLength="22.3" lengthAdjust="spacingAndGlyphs">12%</text>
<text class="n" x="622.9" y="399.8" textLength="25.0" lengthAdjust="spacingAndGlyphs">34%</text>
<text class="n" x="785.2" y="399.6" textLength="25.0" lengthAdjust="spacingAndGlyphs">28%</text>
<text class="n" x="913.2" y="396.6" textLength="25.0" lengthAdjust="spacingAndGlyphs">20%</text>
<text x="456.0" y="79.3" class="n" style="fill:#652d87;font-size:11.8px">1<tspan dx="-1.4">%</tspan></text>
<polygon fill="#7050ad" points="980,159.8 1020.7,250.3 1017.4,257.6 1012.6,275.2 1002.7,298.7 995,317.5 986,338.5 982.6,246"/>
<text class="l" transform="translate(129.6,95.0) scale(1.090,1)" textLength="289.9" lengthAdjust="spacing">I WISH MORE PEOPLE UNDERSTOOD THE IMPACT</text>
<text class="l" transform="translate(160.2,108.8) scale(1.090,1)" textLength="261.8" lengthAdjust="spacing">CROHN’S HAS ON THOSE WITH THE DISEASE</text>
<text class="l" transform="translate(176.0,138.9) scale(1.090,1)" textLength="247.3" lengthAdjust="spacing">I AM TIRED MORE OFTEN/FATIGUE EASILY</text>
<text class="l" transform="translate(68.3,179.0) scale(1.090,1)" textLength="346.1" lengthAdjust="spacing">I AM AFRAID OF LONG TERM COMPLICATIONS OF CROHN’S</text>
<text class="l" transform="translate(137.7,219.2) scale(1.090,1)" textLength="282.5" lengthAdjust="spacing">CROHN’S HAS A FINANCIAL IMPACT ON MY LIFE</text>
<text class="l" transform="translate(117.6,250.9) scale(1.090,1)" textLength="300.9" lengthAdjust="spacing">I AM COMFORTABLE TALKING TO MY FRIENDS AND</text>
<text class="l" transform="translate(139.7,264.9) scale(1.090,1)" textLength="280.6" lengthAdjust="spacing">FAMILY ABOUT MY EXPERIENCE WITH CROHN’S</text>
<text class="l" transform="translate(107.6,284.7) scale(1.090,1)" textLength="310.1" lengthAdjust="spacing">I HAVE FOUND THAT MY ATTITUDE IS A SIGNIFICANT</text>
<text class="l" transform="translate(138.4,298.9) scale(1.090,1)" textLength="281.8" lengthAdjust="spacing">FACTOR IN MY QUALITY OF LIFE WITH CROHN’S</text>
<text class="l" transform="translate(160.2,330.8) scale(1.090,1)" textLength="261.8" lengthAdjust="spacing">I AM UNABLE TO DO AS MUCH AS I USED TO</text>
<text class="l" transform="translate(64.3,367.6) scale(1.090,1)" textLength="349.8" lengthAdjust="spacing">I’M CONSTANTLY WORRIED ABOUT DISAPPOINTING PEOPLE</text>
<text class="l" transform="translate(112.6,401.0) scale(1.090,1)" textLength="305.5" lengthAdjust="spacing">I AM IN CONTROL OF MY LIFE DESPITE MY CROHN’S</text>
<text class="f" x="30.2" y="420.8" textLength="39.6" lengthAdjust="spacing">n=2,018</text>
<text class="f" x="30.2" y="431.8" textLength="344.4" lengthAdjust="spacing">Q) Rate to what extent each of the following statements apply to you.</text>
<polygon fill="#652d87" points="656.0,421.3 668.0,420.6 668.2,433.2 656.2,433.9"/>
<text class="g" x="673.8" y="429.9" fill="#5b2a7e" textLength="40.8" lengthAdjust="spacing">NOT AT ALL</text>
<polygon fill="#3b51ba" points="720.6,420.0 733.0,419.4 733.1,432.6 720.9,432.9"/>
<text class="g" x="738.8" y="429.9" fill="#4a5cc6" textLength="33.0" lengthAdjust="spacing">SLIGHTLY</text>
<polygon fill="#ec8489" points="778.2,421.2 790.0,420.8 790.3,433.0 778.4,433.7"/>
<text class="g" x="795.7" y="429.9" fill="#ec8489" textLength="42.1" lengthAdjust="spacing">SOMEWHAT</text>
<polygon fill="#b361b0" points="844.7,420.0 857.0,419.4 857.2,432.7 845.0,433.3"/>
<text class="g" x="861.9" y="429.9" fill="#b361b0" textLength="47.7" lengthAdjust="spacing">MODERATELY</text>
<polygon fill="#323788" points="915.7,421.3 927.6,420.8 928.0,433.4 916.0,434.0"/>
<text class="g" x="933.2" y="429.9" fill="#323788" textLength="41.1" lengthAdjust="spacing">EXTREMELY</text>
</svg>
</body></html>
